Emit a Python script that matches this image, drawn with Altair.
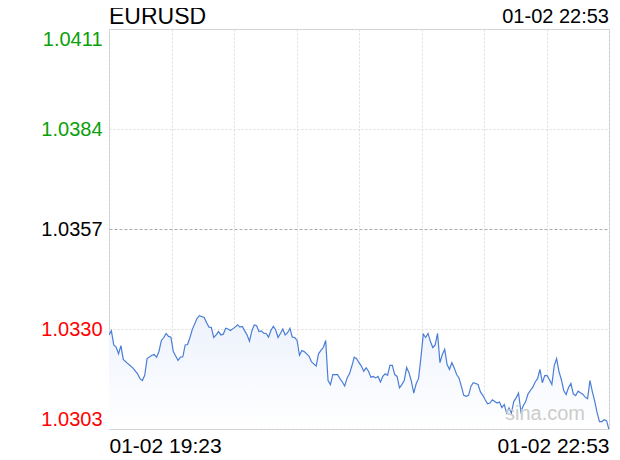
import altair as alt
import pandas as pd

# minute offsets from 19:23 and EURUSD price
minutes = [0, 1, 2, 3, 4, 5, 6, 8, 10, 12, 13, 14, 15, 16, 18, 19, 20, 21, 22, 23,
           24, 25, 26, 27, 28, 29, 30, 31, 32, 33, 34, 35, 37, 38, 40, 41, 42, 43, 44, 45,
           46, 47, 48, 49, 50, 51, 53, 54, 55, 56, 57, 58, 59, 60, 61, 62, 63, 64, 65, 66,
           67, 68, 69, 70, 71, 72, 73, 74, 75, 76, 77, 78, 79, 80, 81, 82, 83, 84, 85, 86,
           87, 88, 89, 90, 91, 92, 93, 94, 95, 96, 97, 98, 99, 100, 101, 102, 103, 104, 105, 106,
           107, 108, 109, 110, 111, 112, 113, 114, 115, 116, 117, 118, 119, 120, 121, 122, 123, 124, 125, 126,
           127, 128, 129, 130, 131, 132, 133, 134, 135, 136, 137, 138, 139, 140, 141, 142, 143, 144, 145, 146,
           147, 148, 149, 150, 151, 152, 153, 154, 155, 156, 157, 158, 159, 160, 161, 162, 163, 164, 165, 166,
           167, 168, 169, 170, 171, 172, 173, 174, 175, 176, 177, 178, 179, 180, 181, 182, 183, 184, 185, 186,
           187, 188, 189, 190, 191, 192, 193, 194, 195, 196, 197, 198, 199, 200, 201, 202, 203, 204, 205, 206,
           207, 208, 209, 210]
prices = [1.03284, 1.03295, 1.03257, 1.03251, 1.03233, 1.03255, 1.03218, 1.03206, 1.03195, 1.03179,
          1.03166, 1.03161, 1.03175, 1.03220, 1.03229, 1.03231, 1.03224, 1.03240, 1.03269, 1.03277,
          1.03288, 1.03280, 1.03278, 1.03239, 1.03227, 1.03215, 1.03224, 1.03225, 1.03257, 1.03258,
          1.03277, 1.03299, 1.03329, 1.03336, 1.03331, 1.03317, 1.03305, 1.03304, 1.03277, 1.03284,
          1.03293, 1.03284, 1.03286, 1.03302, 1.03300, 1.03296, 1.03305, 1.03311, 1.03305, 1.03307,
          1.03295, 1.03284, 1.03267, 1.03295, 1.03311, 1.03309, 1.03293, 1.03295, 1.03289, 1.03288,
          1.03278, 1.03296, 1.03307, 1.03298, 1.03277, 1.03288, 1.03300, 1.03284, 1.03290, 1.03302,
          1.03278, 1.03277, 1.03269, 1.03229, 1.03242, 1.03239, 1.03233, 1.03227, 1.03212, 1.03206,
          1.03200, 1.03233, 1.03242, 1.03250, 1.03269, 1.03161, 1.03150, 1.03177, 1.03177, 1.03177,
          1.03166, 1.03157, 1.03146, 1.03168, 1.03179, 1.03200, 1.03224, 1.03220, 1.03209, 1.03200,
          1.03186, 1.03195, 1.03186, 1.03170, 1.03172, 1.03168, 1.03172, 1.03157, 1.03172, 1.03179,
          1.03175, 1.03202, 1.03202, 1.03177, 1.03172, 1.03141, 1.03150, 1.03161, 1.03196, 1.03182,
          1.03159, 1.03127, 1.03152, 1.03166, 1.03222, 1.03286, 1.03277, 1.03288, 1.03266, 1.03250,
          1.03257, 1.03288, 1.03209, 1.03231, 1.03245, 1.03204, 1.03191, 1.03209, 1.03195, 1.03177,
          1.03168, 1.03145, 1.03121, 1.03118, 1.03121, 1.03145, 1.03155, 1.03153, 1.03150, 1.03130,
          1.03121, 1.03109, 1.03098, 1.03100, 1.03109, 1.03104, 1.03100, 1.03103, 1.03088, 1.03096,
          1.03073, 1.03087, 1.03073, 1.03104, 1.03114, 1.03127, 1.03077, 1.03093, 1.03104, 1.03125,
          1.03134, 1.03143, 1.03157, 1.03166, 1.03191, 1.03155, 1.03174, 1.03174, 1.03163, 1.03150,
          1.03201, 1.03220, 1.03185, 1.03163, 1.03134, 1.03123, 1.03142, 1.03153, 1.03125, 1.03120,
          1.03132, 1.03128, 1.03124, 1.03116, 1.03112, 1.03161, 1.03131, 1.03105, 1.03074, 1.03050,
          1.03050, 1.03055, 1.03052, 1.03028]

y_ticks = [1.0303, 1.0330, 1.0357, 1.0384, 1.0411]
prev_close = 1.0357
x_grid = [0, 26.25, 52.5, 78.75, 105, 131.25, 157.5, 183.75, 210]
x_end_labels = ["01-02 19:23", "01-02 22:53"]
symbol = ["EURUSD"]
stamp = ["01-02 22:53"]
watermark = ["sina.com"]

df = pd.DataFrame({"m": minutes, "p": prices})

FONT = "Liberation Sans"
LINE = "#4a7ed6"

label_expr = (
    f"datum.value == 0 ? '{x_end_labels[0]}' : "
    f"(datum.value == 210 ? '{x_end_labels[1]}' : '')"
)

x_enc = alt.X(
    "m:Q",
    scale=alt.Scale(domain=[0, 210], nice=False, zero=False),
    axis=alt.Axis(
        values=x_grid, title=None, labelExpr=label_expr, labelFlush=True,
        labelOverlap=False, ticks=False, domain=False, grid=True,
        gridColor="#dddddd", gridDash=[2, 2], labelFont=FONT, labelFontSize=21,
        labelColor="#000000", labelPadding=6,
    ),
)
y_enc = alt.Y(
    "p:Q",
    scale=alt.Scale(domain=[y_ticks[0], y_ticks[-1]], nice=False, zero=False),
    axis=alt.Axis(
        values=y_ticks, format=".4f", title=None, ticks=False, domain=False,
        grid=True, labelFlush=True, labelFont=FONT, labelFontSize=20,
        labelPadding=7,
        labelColor={
            "condition": [
                {"test": f"datum.value > {prev_close + 0.00001}", "value": "#0aa00a"},
                {"test": f"datum.value < {prev_close - 0.00001}", "value": "#ff0000"},
            ],
            "value": "#000000",
        },
        gridColor={
            "condition": {"test": f"abs(datum.value - {prev_close}) < 0.00001", "value": "#aaaaaa"},
            "value": "#dddddd",
        },
        gridDash={
            "condition": {"test": f"abs(datum.value - {prev_close}) < 0.00001", "value": [3, 2]},
            "value": [2, 2],
        },
    ),
)

area = alt.Chart(df).mark_area(
    clip=True,
    color=alt.Gradient(
        gradient="linear",
        stops=[alt.GradientStop(color="#edf2fc", offset=0),
               alt.GradientStop(color="#ffffff", offset=1)],
        x1=1, x2=1, y1=0, y2=1,
    ),
).encode(x=x_enc, y=y_enc, y2=alt.datum(y_ticks[0]))

line = alt.Chart(df).mark_line(color=LINE, strokeWidth=1.2, clip=True).encode(
    x="m:Q", y="p:Q"
)

title_txt = alt.Chart(pd.DataFrame({"t": symbol})).mark_text(
    align="left", baseline="alphabetic", font=FONT, fontSize=23, color="#000000"
).encode(x=alt.value(0), y=alt.value(-5), text="t:N")

stamp_txt = alt.Chart(pd.DataFrame({"t": stamp})).mark_text(
    align="right", baseline="alphabetic", font=FONT, fontSize=20, color="#000000"
).encode(x=alt.value(500), y=alt.value(-6), text="t:N")

wm_txt = alt.Chart(pd.DataFrame({"t": watermark})).mark_text(
    align="center", baseline="alphabetic", font=FONT, fontSize=20,
    color="#cccccc"
).encode(x=alt.value(436), y=alt.value(391), text="t:N")

chart = alt.layer(area, line, wm_txt, title_txt, stamp_txt).properties(
    width=500, height=400,
    padding={"left": 101, "top": 21, "right": 3, "bottom": 31},
    autosize=alt.AutoSizeParams(type="none"),
    background="#ffffff",
).configure_view(stroke="#cccccc", strokeWidth=1)

chart.save("out.html", embed_options={"renderer": "svg", "actions": False})
